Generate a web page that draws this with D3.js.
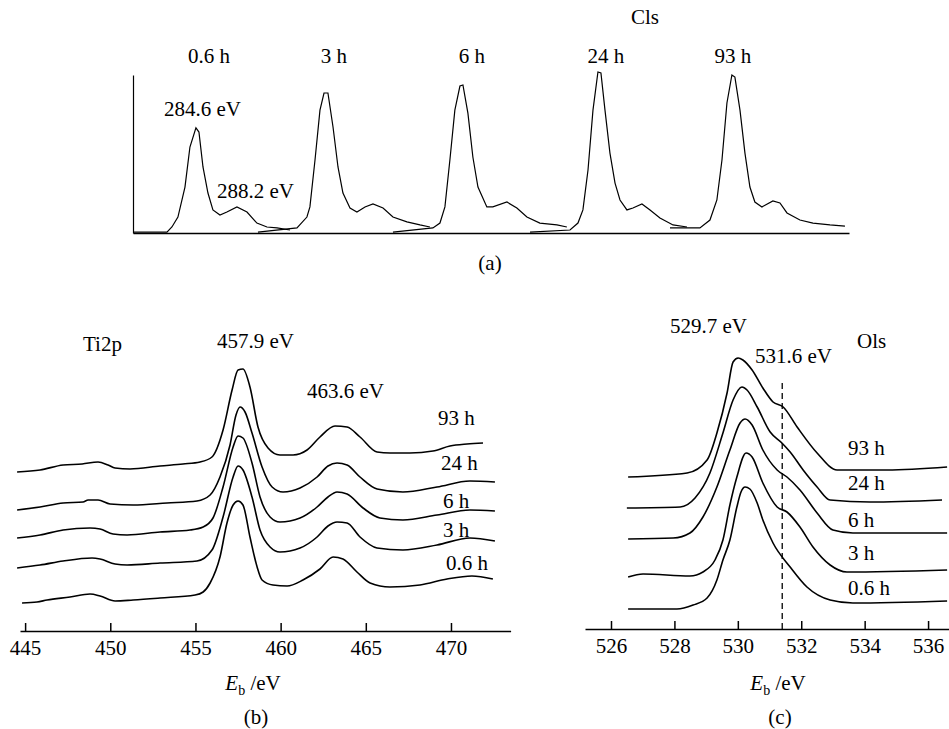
<!DOCTYPE html>
<html><head><meta charset="utf-8">
<script src="https://cdn.jsdelivr.net/npm/d3@7"></script>
<style>
html,body{margin:0;padding:0;background:#fff;}
svg text{font-family:"Liberation Serif","Times New Roman",serif;fill:#000;}
</style></head>
<body><svg id="chart" width="949" height="729"></svg>
<script>
// ---------- Panel (a): C1s spectra ----------
const c1sTimes = ["0.6 h", "3 h", "6 h", "24 h", "93 h"];
const c1sPeakPos = [5.45, 16.71, 28.48, 40.35, 51.95]; // 284.6 eV peak position along channel axis
const c1sE_06 = [279.15, 282.09, 282.52, 283.04, 283.65, 284.08, 284.6, 284.86, 285.21, 285.64, 286.07, 286.68, 287.28, 288.15, 289.02, 289.88, 290.75, 291.62, 292.74];
const c1sI_06 = [0.6, 0.6, 3.8, 10.1, 29.1, 54.4, 66.5, 63.9, 41.8, 25.3, 14.6, 11.4, 13.3, 16.5, 13.3, 6.3, 3.8, 3.2, 1.9];
const c1sE_3 = [278.71, 282.09, 282.95, 283.21, 283.65, 284.08, 284.43, 284.77, 285.21, 285.64, 286.07, 286.68, 287.28, 287.98, 288.67, 289.54, 290.40, 291.61, 292.74, 293.60];
const c1sI_3 = [0.6, 3.2, 10.1, 16.5, 46.2, 77.8, 88.6, 88.6, 67.1, 41.8, 25.3, 15.8, 13.3, 16.5, 18.4, 15.8, 10.1, 7.0, 5.1, 3.8];
const c1sE_6 = [278.63, 282.09, 282.70, 283.13, 283.56, 283.99, 284.43, 284.69, 285.12, 285.55, 285.99, 286.76, 287.28, 288.50, 289.36, 290.23, 291.35, 292.83, 293.69];
const c1sI_6 = [0.6, 3.2, 6.3, 16.5, 46.2, 77.8, 93.0, 93.7, 75.9, 48.1, 29.1, 16.5, 16.5, 19.6, 15.8, 10.1, 6.3, 5.1, 3.8];
const c1sE_24 = [278.63, 282.09, 282.78, 283.21, 283.65, 284.08, 284.51, 284.77, 285.12, 285.55, 285.99, 286.42, 287.02, 287.54, 288.32, 289.02, 289.88, 291.01, 292.22];
const c1sI_24 = [0.6, 1.9, 6.3, 14.6, 39.9, 77.8, 101.9, 101.3, 77.8, 50.6, 31.6, 20.9, 14.6, 15.8, 18.4, 14.6, 9.5, 5.1, 3.8];
const c1sE_93 = [279.15, 281.74, 282.61, 283.21, 283.65, 284.08, 284.51, 284.77, 285.21, 285.64, 286.07, 286.50, 287.11, 288.06, 288.67, 289.28, 290.40, 291.53, 293.00, 294.30];
const c1sI_93 = [3.2, 3.2, 8.2, 20.9, 46.2, 82.3, 100, 98.7, 77.8, 50.6, 29.1, 19.6, 16.5, 20.3, 19.0, 12.7, 8.2, 6.3, 5.1, 4.4];

// ---------- Panel (b): Ti2p spectra ----------
const ti2pTimes = ["93 h", "24 h", "6 h", "3 h", "0.6 h"];
const ti2pTicks = [445, 450, 455, 460, 465, 470];
const ti2pE_93 = [444.53, 445.88, 447.23, 448.35, 449.28, 449.87, 450.28, 451.16, 452.92, 454.27, 455.27, 455.97, 456.62, 457.15, 457.50, 457.79, 458.20, 458.67, 459.26, 459.96, 460.73, 461.55, 462.31, 463.19, 463.90, 464.66, 465.66, 466.42, 467.59, 468.94, 469.94, 470.94, 471.88];
const ti2pI_93 = [159, 161, 166, 167, 169, 166, 163, 162, 165, 167, 169, 174, 201, 241, 261, 262, 244, 204, 183, 176, 176, 181, 194, 205, 204, 194, 179, 178, 178, 180, 185, 187, 188];
const ti2pE_24 = [444.53, 445.88, 447.23, 448.40, 448.70, 449.28, 449.99, 451.34, 453.33, 455.09, 455.86, 456.44, 457.03, 457.38, 457.62, 457.91, 458.32, 458.91, 459.50, 460.14, 461.14, 462.14, 462.78, 463.31, 463.90, 464.66, 465.66, 467.18, 469.18, 471.11, 472.58];
const ti2pI_24 = [121, 124, 128, 129, 131, 131, 127, 126, 128, 130, 136, 154, 186, 216, 224, 219, 198, 164, 144, 139, 143, 154, 165, 168, 166, 154, 142, 139, 144, 150, 149];
const ti2pE_6 = [444.53, 445.88, 447.23, 448.81, 449.40, 450.16, 450.99, 452.92, 454.68, 455.45, 456.03, 456.62, 457.21, 457.50, 457.79, 458.32, 458.79, 459.38, 459.96, 461.14, 462.14, 462.78, 463.31, 463.90, 464.84, 465.83, 467.18, 469.18, 471.11, 472.58];
const ti2pI_6 = [93, 96, 101, 103, 102, 97, 96, 99, 101, 104, 113, 144, 184, 195, 193, 168, 134, 114, 109, 113, 124, 134, 139, 137, 123, 113, 111, 116, 121, 120];
const ti2pE_3 = [444.53, 445.88, 447.23, 448.93, 449.40, 450.28, 450.99, 452.92, 455.09, 455.97, 456.62, 457.21, 457.50, 457.79, 458.32, 458.79, 459.38, 459.96, 461.14, 462.14, 462.78, 463.31, 463.90, 464.66, 465.66, 467.18, 469.18, 471.11, 472.58];
const ti2pI_3 = [63, 66, 70, 73, 72, 67, 66, 68, 70, 81, 114, 154, 165, 161, 134, 101, 84, 79, 83, 94, 105, 109, 108, 94, 83, 81, 86, 93, 90];
const ti2pE_06 = [444.82, 445.70, 446.29, 447.64, 448.81, 449.40, 450.28, 451.34, 452.92, 454.98, 455.45, 455.86, 456.44, 456.85, 457.21, 457.50, 457.79, 458.20, 458.62, 458.91, 459.55, 460.38, 461.31, 462.31, 463.08, 463.66, 464.48, 465.25, 466.42, 468.18, 469.77, 471.23, 472.46];
const ti2pI_06 = [28, 29, 31, 34, 37, 35, 30, 31, 33, 36, 39, 48, 74, 108, 126, 130, 126, 94, 64, 51, 46, 45, 51, 62, 74, 72, 59, 48, 44, 46, 52, 55, 52];

// ---------- Panel (c): O1s spectra ----------
const o1sTimes = ["93 h", "24 h", "6 h", "3 h", "0.6 h"];
const o1sTicks = [526, 528, 530, 532, 534, 536];
const o1sMarker = 531.4;
const o1sE_93 = [526.54, 528.40, 529.03, 529.34, 529.66, 529.85, 530.01, 530.16, 530.45, 530.79, 531.11, 531.43, 531.87, 532.50, 533.13, 534.71, 536.60];
const o1sI_93 = [152, 156, 169, 196, 236, 267, 271, 269, 259, 241, 227, 222, 202, 176, 159, 159, 162];
const o1sE_24 = [526.50, 528.18, 528.65, 529.12, 529.53, 529.85, 530.13, 530.29, 530.61, 531.02, 531.39, 531.65, 532.06, 532.50, 532.91, 534.17, 536.44];
const o1sI_24 = [121, 122, 131, 156, 196, 229, 242, 239, 222, 197, 186, 177, 159, 142, 129, 127, 129];
const o1sE_6 = [526.54, 527.96, 528.49, 528.90, 529.34, 529.75, 530.07, 530.23, 530.45, 530.79, 531.24, 531.55, 531.96, 532.50, 533.00, 533.63, 536.60];
const o1sI_6 = [90, 91, 96, 112, 142, 179, 206, 210, 204, 179, 159, 152, 139, 116, 99, 96, 96];
const o1sE_3 = [526.54, 527.01, 528.49, 528.90, 529.28, 529.53, 529.75, 529.97, 530.26, 530.45, 530.79, 531.24, 531.55, 531.96, 532.37, 532.91, 533.44, 536.60];
const o1sI_3 = [52, 55, 53, 57, 69, 89, 124, 152, 176, 172, 146, 122, 117, 102, 82, 64, 57, 59];
const o1sE_06 = [526.54, 528.08, 528.59, 529.03, 529.34, 529.53, 529.75, 529.97, 530.10, 530.23, 530.38, 530.61, 530.79, 531.11, 531.65, 532.18, 532.91, 533.63, 536.60];
const o1sI_06 = [20, 20, 24, 31, 49, 69, 89, 122, 137, 142, 140, 126, 109, 86, 62, 42, 29, 26, 28];

// ================= drawing =================
const svg = d3.select("#chart");
const FS = 21;
const zip = (E, I) => E.map((e, i) => ({e: e, v: I[i]}));

function txt(x, y, s, anchor, size) {
  return svg.append("text").attr("x", x).attr("y", y)
    .attr("text-anchor", anchor || "start").attr("font-size", size || FS).text(s);
}
function ebLabel(cx, y) {
  const t = svg.append("text").attr("x", cx).attr("y", y).attr("text-anchor", "middle").attr("font-size", FS);
  t.append("tspan").attr("font-style", "italic").text("E");
  t.append("tspan").attr("font-size", 14).attr("dy", 5).text("b");
  t.append("tspan").attr("dy", -5).text(" /eV");
}

// ---- Panel (a)
const xA = d3.scaleLinear().domain([0, 62]).range([133, 849]);
const yA = d3.scaleLinear().domain([0, 100]).range([233, 75]);
const c1sSeries = [[c1sE_06, c1sI_06], [c1sE_3, c1sI_3], [c1sE_6, c1sI_6], [c1sE_24, c1sI_24], [c1sE_93, c1sI_93]];
const gA = svg.append("g");
gA.append("g").attr("transform", "translate(0,233)")
  .call(d3.axisBottom(xA).tickValues([]).tickSizeOuter(0))
  .select(".domain").attr("stroke", "#000").attr("stroke-width", 1.5);
gA.append("g").attr("transform", "translate(133,0)")
  .call(d3.axisLeft(yA).tickValues([]).tickSizeOuter(0))
  .select(".domain").attr("stroke", "#000").attr("stroke-width", 1.2);
c1sSeries.forEach((s, i) => {
  const line = d3.line().x(d => xA(c1sPeakPos[i] + d.e - 284.6)).y(d => yA(d.v));
  gA.append("path").datum(zip(s[0], s[1])).attr("d", line)
    .attr("fill", "none").attr("stroke", "#000").attr("stroke-width", 1.2);
});
const topLabelNudge = [13, 8, 10, 7, 0];
c1sTimes.forEach((t, i) => txt(xA(c1sPeakPos[i]) + topLabelNudge[i], 63, t, "middle"));
txt(645, 24, "Cls", "middle");
txt(164, 116, "284.6 eV");
txt(217, 198, "288.2 eV");
txt(490, 270, "(a)", "middle");

// ---- Panel (b)
const xB = d3.scaleLinear().domain([444.7, 473.5]).range([20, 510.6]);
const yB = d3.scaleLinear().domain([0, 270]).range([631, 361]);
const gB = svg.append("g");
const axB = gB.append("g").attr("transform", "translate(0,631)")
  .call(d3.axisBottom(xB).tickValues(ti2pTicks).tickSizeInner(-8).tickSizeOuter(0).tickPadding(9));
axB.selectAll("path,line").attr("stroke", "#000").attr("stroke-width", 1.5);
axB.selectAll("text").attr("font-size", FS).attr("font-family", "Liberation Serif");
const ti2pSeries = [[ti2pE_93, ti2pI_93], [ti2pE_24, ti2pI_24], [ti2pE_6, ti2pI_6], [ti2pE_3, ti2pI_3], [ti2pE_06, ti2pI_06]];
const lineB = d3.line().curve(d3.curveMonotoneX).x(d => xB(d.e)).y(d => yB(d.v));
ti2pSeries.forEach(s => {
  gB.append("path").datum(zip(s[0], s[1])).attr("d", lineB)
    .attr("fill", "none").attr("stroke", "#000").attr("stroke-width", 1.6);
});
const ti2pLabelX = [438, 441, 443, 443, 446];
const ti2pLabelY = [425, 470, 508, 537, 570];
ti2pTimes.forEach((t, i) => txt(ti2pLabelX[i], ti2pLabelY[i], t));
txt(83, 351, "Ti2p");
txt(217, 348, "457.9 eV");
txt(307, 398, "463.6 eV");
ebLabel(253, 690);
txt(256, 724, "(b)", "middle");

// ---- Panel (c)
const xC = d3.scaleLinear().domain([525.18, 536.66]).range([585, 949]);
const yC = d3.scaleLinear().domain([0, 270]).range([629, 359]);
const gC = svg.append("g");
const axC = gC.append("g").attr("transform", "translate(0,629)")
  .call(d3.axisBottom(xC).tickValues(o1sTicks).tickSizeInner(-8).tickSizeOuter(0).tickPadding(9));
axC.selectAll("path,line").attr("stroke", "#000").attr("stroke-width", 1.5);
axC.selectAll("text").attr("font-size", FS).attr("font-family", "Liberation Serif");
const o1sSeries = [[o1sE_93, o1sI_93], [o1sE_24, o1sI_24], [o1sE_6, o1sI_6], [o1sE_3, o1sI_3], [o1sE_06, o1sI_06]];
const lineC = d3.line().curve(d3.curveMonotoneX).x(d => xC(d.e)).y(d => yC(d.v));
o1sSeries.forEach(s => {
  gC.append("path").datum(zip(s[0], s[1])).attr("d", lineC)
    .attr("fill", "none").attr("stroke", "#000").attr("stroke-width", 1.6);
});
gC.append("line").attr("x1", xC(o1sMarker)).attr("x2", xC(o1sMarker))
  .attr("y1", yC(246)).attr("y2", yC(0))
  .attr("stroke", "#000").attr("stroke-width", 1.3).attr("stroke-dasharray", "6,4");
const o1sLabelY = [455, 490, 527, 560, 595];
o1sTimes.forEach((t, i) => txt(848, o1sLabelY[i], t));
txt(670, 333, "529.7 eV");
txt(755, 363, "531.6 eV");
txt(857, 348, "Ols");
ebLabel(778, 690);
txt(780, 724, "(c)", "middle");
</script>
</body></html>
